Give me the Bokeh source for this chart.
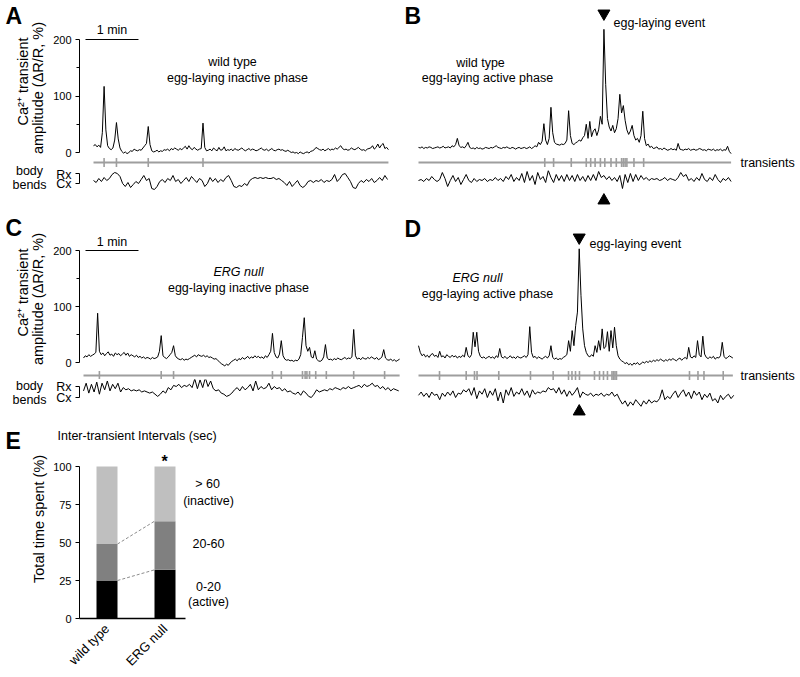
import numpy as np
from bokeh.plotting import figure
from bokeh.models import Range1d, LinearAxis, FixedTicker, Label, ColumnDataSource
from bokeh.layouts import column, row
from bokeh.embed import file_html
from bokeh.resources import INLINE

FONT = "Liberation Sans"
GRAY = "#9e9e9e"

# ---------------- data ----------------
dt_ca = 2.0   # s between Ca samples
dt_bb = 3.0   # s between body-bend samples

ca_A = [12, 14, 10, 13, 9, 35, 117, 40, 12, 7,
        5, 8, 22, 53, 24, 8, 2, -1, 1, -2,
        0, 3, 2, 6, 4, 3, 5, 4, 8, 12,
        16, 46, 14, 3, 1, 2, 4, 1, 3, 2,
        5, 4, 6, 3, 7, 5, 8, 6, 4, 7,
        5, 8, 11, 6, 12, 7, 5, 9, 6, 4,
        6, 7, 52, 9, 3, 4, 6, 3, 8, 5,
        3, 9, 4, 5, 10, 3, 5, 4, 6, 3,
        7, 5, 4, 6, 8, 5, 3, 5, 7, 4,
        6, 5, 3, 4, 6, 8, 5, 4, 6, 3,
        5, 7, 4, 3, 5, 6, 4, 5, 3, 2,
        4, 2, 0, 1, -1, 0, -2, 1, -1, -2,
        0, 1, -1, 2, 3, 5, 9, 7, 5, 4,
        6, 3, 5, 7, 4, 6, 5, 8, 6, 9,
        12, 7, 5, 6, 4, 5, 8, 6, 5, 7,
        9, 6, 4, 5, 3, 6, 7, 8, 12, 6,
        9, 15, 8, 13, 16, 7, 9, 5]
bb_A = [0.3, 0.1, 0.5, 0.2, 0.6, 0.3, 0.5, 0.9, 1.1, 1.0,
        0.7, 0.0, -0.3, 0.1, -0.4, -0.1, 0.2, 0.0, 0.4, 0.8,
        0.3, 0.5, -0.5, -0.6, -0.3, 0.2, 0.4, 0.1, 0.5, 0.3,
        0.8, 0.2, 0.4, 0.0, 0.3, 0.6, 0.2, 0.7, 0.4, 0.1,
        0.5, 0.3, -0.3, 0.0, 0.6, 0.2, 0.5, 0.1, 0.4, 0.2,
        0.6, 0.8, 0.3, -0.3, -0.4, -0.2, -0.3, 0.0, -0.2, 0.3,
        0.5, 0.6, 0.5, 0.6, 0.5, 0.6, 0.5, 0.5, 0.6, 0.4,
        0.5, 0.3, 0.1, -0.2, 0.2, -0.3, 0.0, 0.3, -0.2, -0.4,
        -0.2, 0.2, 0.3, 0.1, 0.3, 0.2, 0.4, 0.1, 0.3, 0.2,
        0.4, 0.9, 0.2, 0.5, 0.9, 1.0, 0.6, 0.2, -0.4, -0.5,
        0.0, 0.3, 0.1, 0.4, 0.2, 0.5, 0.1, 0.3, 0.6, 0.3,
        0.8, 0.4]
tr_A = [12, 26, 62, 124]

ca_B = [9, 8, 10, 7, 9, 8, 10, 9, 7, 8,
        9, 10, 8, 9, 11, 8, 9, 10, 8, 12,
        10, 14, 25, 12, 9, 10, 8, 12, 18, 9,
        7, 8, 6, 9, 7, 8, 6, 7, 9, 8,
        7, 9, 8, 10, 12, 9, 8, 7, 9, 8,
        10, 8, 7, 9, 8, 6, 8, 9, 7, 8,
        9, 7, 8, 10, 7, 9, 12, 10, 18, 14,
        20, 51, 22, 14, 25, 80, 35, 18, 15, 14,
        13, 15, 14, 16, 22, 74, 30, 16, 14, 17,
        19, 22, 20, 26, 30, 50, 25, 55, 28, 38,
        42, 30, 40, 64, 50, 218, 120, 60, 45, 38,
        48, 35, 42, 60, 103, 70, 83, 57, 40, 32,
        38, 48, 30, 22, 25, 18, 30, 73, 25, 12,
        15, 9, 11, 7, 8, 10, 6, 7, 5, 8,
        6, 4, 5, 7, 5, 6, 4, 16, 6, 5,
        4, 6, 5, 7, 4, 5, 6, 4, 5, 7,
        6, 4, 5, 3, 6, 5, 4, 6, 3, 5,
        4, 6, 3, 5, 4, 11, 2, -2]
bb_B = [0.3, 0.4, 0.2, 0.5, 0.3, 0.7, 0.4, 0.2, 0.4, 1.1,
        0.5, -0.3, 0.3, 0.8, 0.2, 0.6, -0.1, 0.4, 0.9, 0.3,
        0.1, 0.5, 0.2, 0.4, 0.3, 0.5, 0.2, 0.4, 0.3, 0.6,
        0.3, 0.5, 0.2, 0.7, 0.4, 0.9, 0.2, 0.6, 0.3, 1.0,
        0.1, 1.2, 0.3, 0.8, -0.1, 1.1, 0.4, 0.7, 0.1, 1.3,
        0.6, 0.1, 0.9, 0.3, 0.8, 0.2, 0.9, 0.3, 0.8, 0.2,
        0.9, 0.3, 0.7, 0.2, 0.8, 0.3, 0.9, 0.3, 1.2, 0.6,
        0.8, 0.4, 0.7, 0.3, 0.6, 0.2, 0.8, -0.5, 0.9, 0.1,
        1.0, 0.2, 0.9, 0.3, 0.8, 0.4, 0.6, 0.3, 0.5, 0.4,
        0.5, 0.3, 0.4, 0.6, 0.3, 0.5, 0.4, 0.3, 0.6, 1.1,
        0.7, 0.9, 0.3, 0.5, 0.2, 0.6, 0.3, 1.0, 0.4, 0.2,
        0.6, 0.3, 0.9, 0.4, 0.1, 0.5, 0.3, 0.6, 0.2]
tr_B = [143, 153, 173, 190, 195, 200, 206, 211, 218, 224, 230, 232, 234, 236, 244, 255]
egg_B = 210

ca_C = [8, 12, 10, 14, 11, 13, 15, 18, 88, 20,
        14, 17, 12, 16, 19, 13, 15, 11, 17, 14,
        16, 12, 15, 18, 13, 17, 11, 14, 12, 10,
        13, 9, 11, 8, 10, 7, 9, 8, 6, 9,
        7, 8, 10, 20, 48, 12, 9, 7, 10, 14,
        18, 30, 12, 8, 6, 5, 7, 4, 6, 5,
        7, 9, 11, 13, 10, 14, 12, 11, 13, 10,
        12, 9, 10, 8, 6, 7, 4, 1, -2, -4,
        -6, -3, -5, -1, 2, 4, 6, 3, 7, 5,
        9, 6, 8, 11, 7, 10, 8, 12, 9, 11,
        8, 10, 7, 12, 9, 14, 20, 52, 18, 10,
        8, 15, 39, 12, 6, 4, 5, 3, 4, 2,
        4, 3, 6, 14, 45, 80, 30, 20, 27, 10,
        8, 21, 6, 3, 2, 4, 10, 32, 8, 5,
        6, 4, 7, 5, 8, 6, 5, 7, 9, 6,
        8, 7, 10, 59, 12, 6, 8, 5, 9, 7,
        6, 9, 7, 10, 8, 6, 9, 5, 7, 10,
        23, 8, 5, 4, 6, 3, 5, 2, 4, 6]
bb_C = [0.6, 1.3, 0.4, 1.2, 0.5, 1.4, 0.3, 1.3, 0.7, 1.5,
        0.6, 1.2, 0.8, 1.3, 0.5, 0.9, 0.7, 0.8, 0.6, 0.7,
        0.6, 0.7, 0.5, 0.6, 0.5, 0.4, 0.5, 0.3, 0.1, 0.3,
        0.6, 0.4, 0.9, 0.7, 1.1, 1.0, 1.2, 0.9, 1.1, 1.0,
        1.2, 0.9, 1.7, 0.8, 1.6, 0.9, 1.8, 1.0, 1.5, 0.8,
        0.6, 0.7, 0.4, 0.3, 0.1, 0.2, 0.4, 0.7, 0.9, 0.6,
        1.0, 0.7, 0.9, 1.2, 0.6, 1.5, 0.7, 1.0, 0.8, 0.9,
        1.3, 0.7, 1.0, 0.8, 0.9, 0.6, 0.8, 0.5, 0.6, 0.4,
        0.3, 0.5, 0.2, 0.6, 0.4, 0.1, 0.0, 0.3, 0.7, 0.5,
        0.6, 0.7, 0.6, 0.8, 0.7, 0.9, 0.8, 0.7, 0.9, 0.8,
        1.0, 0.8, 0.9, 1.0, 1.1, 0.9, 1.2, 1.0, 1.1, 1.3,
        1.0, 1.1, 0.8, 1.0, 0.7, 0.9, 0.6, 0.8, 0.7, 0.6]
tr_C = [18, 88, 102, 214, 224, 248, 251, 253, 256, 263, 275, 306, 341]

ca_D = [30, 18, 12, 15, 10, 13, 9, 14, 16, 11,
        13, 9, 20, 10, 12, 8, 14, 11, 9, 13,
        10, 12, 8, 11, 9, 13, 10, 27, 12, 9,
        14, 54, 28, 54, 20, 11, 8, 10, 7, 9,
        11, 8, 10, 7, 12, 9, 25, 10, 8, 11,
        7, 9, 12, 8, 10, 7, 11, 9, 8, 10,
        12, 9, 14, 64, 18, 9, 11, 7, 10, 8,
        6, 9, 11, 8, 12, 30, 9, 6, 8, 5,
        7, 6, 9, 11, 14, 39, 20, 57, 30, 66,
        90, 203, 120, 60, 30, 18, 12, 10, 14, 11,
        30, 18, 39, 22, 60, 25, 28, 55, 20, 57,
        26, 63, 30, 12, 6, 3, 1, -2, 0, -4,
        -2, -5, -1, -3, 0, -4, -2, 1, -1, 2,
        0, 3, 1, 4, 2, 5, 3, 6, 4, 2,
        5, 3, 6, 4, 7, 5, 3, 6, 8, 4,
        7, 9, 6, 27, 10, 8, 12, 9, 39, 14,
        10, 47, 15, 9, 7, 10, 8, 11, 6, 9,
        8, 12, 36, 11, 7, 9, 12, 10, 8]
bb_D = [0.2, 0.5, 0.1, 0.4, 0.0, 0.5, 0.2, 0.3, -0.2, 0.4,
        0.1, 0.5, 0.2, 0.6, 0.0, 0.4, 0.3, 0.7, 0.5, 0.8,
        0.2, 0.9, -0.1, 0.6, 0.3, 0.8, 0.0, 0.6, 0.2, 0.8,
        -0.3, 0.5, -0.5, 0.7, 0.2, 0.9, 0.1, 0.5, 0.3, 0.8,
        0.2, 0.6, 0.0, 0.7, 0.3, 0.5, 0.4, 0.6, 0.5, 0.9,
        0.7, 0.8, 0.4, 0.9, 0.3, 0.7, 0.1, 0.6, 0.2, 0.5,
        0.9, 0.0, 0.5, 0.3, 0.2, 0.4, 0.1, 0.3, 0.2, 0.4,
        0.1, 0.3, 0.2, 0.5, 0.1, 0.3, -0.2, -0.6, -0.3, -0.8,
        -0.4, -0.7, -0.2, -0.5, -0.8, -0.3, -0.6, -0.2, -0.5, -0.3,
        -0.4, -0.1, 0.7, -0.2, 0.1, -0.1, 0.3, 0.6, 0.0, 0.4,
        0.7, 0.1, 0.5, -0.1, 0.6, 0.2, 0.5, -0.2, 0.3, 0.0,
        0.4, -0.3, -0.1, -0.5, 0.2, -0.2, 0.1, 0.3, -0.1, 0.2]
tr_D = [23.8, 54.0, 63.4, 66.3, 90.9, 126.8, 152.5, 169.9, 173.8, 177.8, 182.3,
        199.3, 205.0, 209.5, 214.0, 219.1, 220.8, 222.5, 224.2, 306.9, 316.5, 323.3, 345.1]
egg_D = 182

ca_ticks = [0, 100, 200]
ca_minor = [50, 150]
bb_tick_labels = {0: "Cx", 1: "Rx"}
scale_bar_s = 60

categories = ["wild type", "ERG null"]
pct_active = [25, 32]      # 0-20 s
pct_mid = [24, 32]         # 20-60 s
pct_inactive = [51, 36]    # > 60 s
E_ticks = [0, 25, 50, 75, 100]


# ---------------- layout helpers (page-pixel geometry) ----------------
class Map:
    def __init__(self, x0, sx, y0, sy):
        self.x0, self.sx, self.y0, self.sy = x0, sx, y0, sy

    def x(self, px):
        return (px - self.x0) / self.sx

    def y(self, py):
        return (self.y0 - py) / self.sy


PX = Map(0, 1.0, 0, 1.0)  # plain page-pixel frame for text-only strips


def make_fig(w, h, m, frame, borders=(0, 0, 0, 0)):
    fl, fr, ft, fb = frame
    bl, br, bt, bbm = borders
    p = figure(width=w, height=h, output_backend="svg", toolbar_location=None,
               x_range=Range1d(m.x(fl), m.x(fr)), y_range=Range1d(m.y(fb), m.y(ft)),
               x_axis_location=None, y_axis_location=None,
               min_border_left=bl, min_border_right=br, min_border_top=bt, min_border_bottom=bbm)
    p.grid.visible = False
    p.outline_line_color = None
    p.background_fill_color = "white"
    p.border_fill_color = "white"
    return p


def lab(p, m, px, py, text, size="12.5px", align="center", style="normal", angle=0.0,
        baseline="middle"):
    p.add_layout(Label(x=m.x(px), y=m.y(py), text=text, text_font=FONT, text_font_size=size,
                       text_align=align, text_baseline=baseline, text_font_style=style,
                       angle=angle, text_color="black"))


def style_axis(ax, label_size="11px"):
    ax.axis_line_color = "black"
    ax.axis_line_width = 1
    ax.major_tick_line_color = "black"
    ax.minor_tick_line_color = "black"
    ax.major_tick_in = 0
    ax.major_tick_out = 4
    ax.minor_tick_in = 0
    ax.minor_tick_out = 3
    ax.major_label_text_font = FONT
    ax.major_label_text_font_size = label_size
    ax.major_label_text_color = "black"
    ax.major_label_standoff = 4


def ca_axis(p):
    ax = LinearAxis(bounds=(0, 200), ticker=FixedTicker(ticks=ca_ticks, minor_ticks=ca_minor))
    style_axis(ax)
    p.add_layout(ax, "left")


def bb_axis(p):
    ax = LinearAxis(bounds=(0, 1), ticker=FixedTicker(ticks=[0, 1], minor_ticks=[]),
                    major_label_overrides=bb_tick_labels)
    style_axis(ax, "12.5px")
    p.add_layout(ax, "left")


def ca_trace(p, vals, tr, level):
    t = np.arange(len(vals)) * dt_ca
    dur = t[-1]
    p.segment(x0=[0], x1=[dur], y0=[level], y1=[level], line_color=GRAY, line_width=2)
    p.scatter(x=tr, y=[level] * len(tr), marker="dash", angle=np.pi / 2, size=9,
              line_color=GRAY, line_width=1.6)
    p.line(t, vals, line_color="black", line_width=1)


def bb_trace(p, vals):
    t = np.arange(len(vals)) * dt_bb
    p.line(t, vals, line_color="black", line_width=1)


def left_strip(top, bottom, letter, letter_y, lbl_y1, lbl_y2, body_y):
    s = make_fig(50, bottom - top, PX, (0, 50, top, bottom))
    lab(s, PX, 5, letter_y, letter, size="23px", align="left", style="bold")
    lab(s, PX, 22, lbl_y1, "Ca\u00b2\u207a transient", size="14.5px", angle=np.pi / 2)
    lab(s, PX, 37, lbl_y2, "amplitude (\u0394R/R, %)", size="14.5px", angle=np.pi / 2)
    lab(s, PX, 29, body_y, "body")
    lab(s, PX, 29, body_y + 14, "bends")
    return s


S = 0.883  # px per second

# ---------------- Panel A ----------------
mA = Map(93, S, 152, 0.565)
mAb = Map(93, S, 183, 10.0)
A_left = left_strip(0, 212, "A", 15, 81, 87.5, 170)
A_ca = make_fig(353, 167, mA, (79, 403, 0, 167), (29, 0, 0, 0))
ca_axis(A_ca)
ca_trace(A_ca, ca_A, tr_A, mA.y(162))
A_ca.segment(x0=[mA.x(85)], x1=[mA.x(85) + scale_bar_s], y0=[200], y1=[200], line_color="black", line_width=1.2)
lab(A_ca, mA, 111.5, 29, "1 min")
lab(A_ca, mA, 232, 61, "wild type")
lab(A_ca, mA, 237, 77, "egg-laying inactive phase")
A_bb = make_fig(353, 45, mAb, (79, 403, 167, 212), (29, 0, 0, 0))
bb_axis(A_bb)
bb_trace(A_bb, bb_A)

# ---------------- Panel B ----------------
mB = Map(418, S, 152, 0.565)
mBb = Map(418, S, 183, 10.0)
B_ca = make_fig(397, 170, mB, (403, 800, 0, 170))
ca_trace(B_ca, ca_B, tr_B, mB.y(162))
B_ca.scatter(x=[egg_B], y=[mB.y(13)], marker="inverted_triangle", size=12, color="black")
lab(B_ca, mB, 404, 15, "B", size="23px", align="left", style="bold")
lab(B_ca, mB, 480, 62, "wild type")
lab(B_ca, mB, 487, 77, "egg-laying active phase")
lab(B_ca, mB, 613, 22, "egg-laying event", align="left")
lab(B_ca, mB, 740, 162, "transients", align="left")
B_bb = make_fig(397, 42, mBb, (403, 800, 170, 212))
bb_trace(B_bb, bb_B)
B_bb.scatter(x=[egg_B], y=[mBb.y(200)], marker="triangle", size=12, color="black")

# ---------------- Panel C ----------------
mC = Map(83, S, 362, 0.56)
mCb = Map(83, S, 397, 11.0)
C_left = left_strip(212, 420, "C", 227, 292, 298.5, 385)
C_ca = make_fig(353, 167, mC, (79, 403, 212, 379), (29, 0, 0, 0))
ca_axis(C_ca)
ca_trace(C_ca, ca_C, tr_C, mC.y(375))
C_ca.segment(x0=[mC.x(85)], x1=[mC.x(85) + scale_bar_s], y0=[200], y1=[200], line_color="black", line_width=1.2)
lab(C_ca, mC, 111.5, 241, "1 min")
lab(C_ca, mC, 238, 271, "ERG null", style="italic")
lab(C_ca, mC, 238, 287, "egg-laying inactive phase")
C_bb = make_fig(353, 41, mCb, (79, 403, 379, 420), (29, 0, 0, 0))
bb_axis(C_bb)
bb_trace(C_bb, bb_C)

# ---------------- Panel D ----------------
mD = Map(418, S, 362, 0.56)
mDb = Map(418, S, 397, 11.0)
D_ca = make_fig(397, 170, mD, (403, 800, 212, 382))
ca_trace(D_ca, ca_D, tr_D, mD.y(375))
D_ca.scatter(x=[egg_D], y=[mD.y(237)], marker="inverted_triangle", size=12, color="black")
lab(D_ca, mD, 404, 228, "D", size="23px", align="left", style="bold")
lab(D_ca, mD, 477, 277, "ERG null", style="italic")
lab(D_ca, mD, 487, 293, "egg-laying active phase")
lab(D_ca, mD, 589, 243, "egg-laying event", align="left")
lab(D_ca, mD, 740, 375, "transients", align="left")
D_bb = make_fig(397, 38, mDb, (403, 800, 382, 420))
bb_trace(D_bb, bb_D)
D_bb.scatter(x=[egg_D], y=[mDb.y(411)], marker="triangle", size=12, color="black")

# ---------------- Panel E ----------------
E_head = make_fig(400, 32, PX, (0, 400, 420, 452))
lab(E_head, PX, 5, 440, "E", size="23px", align="left", style="bold")
lab(E_head, PX, 57, 435, "Inter-transient Intervals (sec)", align="left")

E_left = make_fig(50, 225, PX, (0, 50, 452, 677))
lab(E_left, PX, 38, 542, "Total time spent (%)", size="14.5px", angle=np.pi / 2)

mE = Map(48.5, 58.0, 618, 1.52)
E = make_fig(250, 225, mE, (79, 300, 452, 618), (29, 0, 0, 59))
xs = [1, 2]
bar_w = 21 / 58.0
src = ColumnDataSource(dict(x=xs, active=pct_active, mid=pct_mid, inactive=pct_inactive))
E.vbar_stack(["active", "mid", "inactive"], x="x", width=bar_w, source=src,
             fill_color=["black", "#808080", "#bfbfbf"], line_color=None)
lvl1 = pct_active
lvl2 = [a + b for a, b in zip(pct_active, pct_mid)]
E.segment(x0=[xs[0] + bar_w / 2] * 2, x1=[xs[1] - bar_w / 2] * 2,
          y0=[lvl1[0], lvl2[0]], y1=[lvl1[1], lvl2[1]],
          line_color="#8c8c8c", line_width=1, line_dash="3 2")
eyax = LinearAxis(bounds=(0, 100), ticker=FixedTicker(ticks=E_ticks, minor_ticks=[]))
style_axis(eyax)
E.add_layout(eyax, "left")
exax = LinearAxis(bounds=(mE.x(79), mE.x(185)), ticker=FixedTicker(ticks=xs, minor_ticks=[]),
                  major_label_overrides={xs[i]: categories[i] for i in range(len(xs))},
                  major_label_orientation=np.pi / 4)
style_axis(exax, "13px")
exax.major_tick_out = 0
exax.major_label_standoff = 8
exax.axis_line_width = 1.5
E.add_layout(exax, "below")
lab(E, mE, 164, 452.5, "*", size="16px", style="bold", baseline="top")
lab(E, mE, 207, 483, "> 60")
lab(E, mE, 208, 500, "(inactive)")
lab(E, mE, 208, 543, "20-60")
lab(E, mE, 208, 586, "0-20")
lab(E, mE, 208, 601, "(active)")

layout = column(
    row(A_left, column(A_ca, A_bb, spacing=0), column(B_ca, B_bb, spacing=0), spacing=0),
    row(C_left, column(C_ca, C_bb, spacing=0), column(D_ca, D_bb, spacing=0), spacing=0),
    E_head,
    row(E_left, E, spacing=0),
    spacing=0)

open("out.html", "w").write(file_html(layout, INLINE))
